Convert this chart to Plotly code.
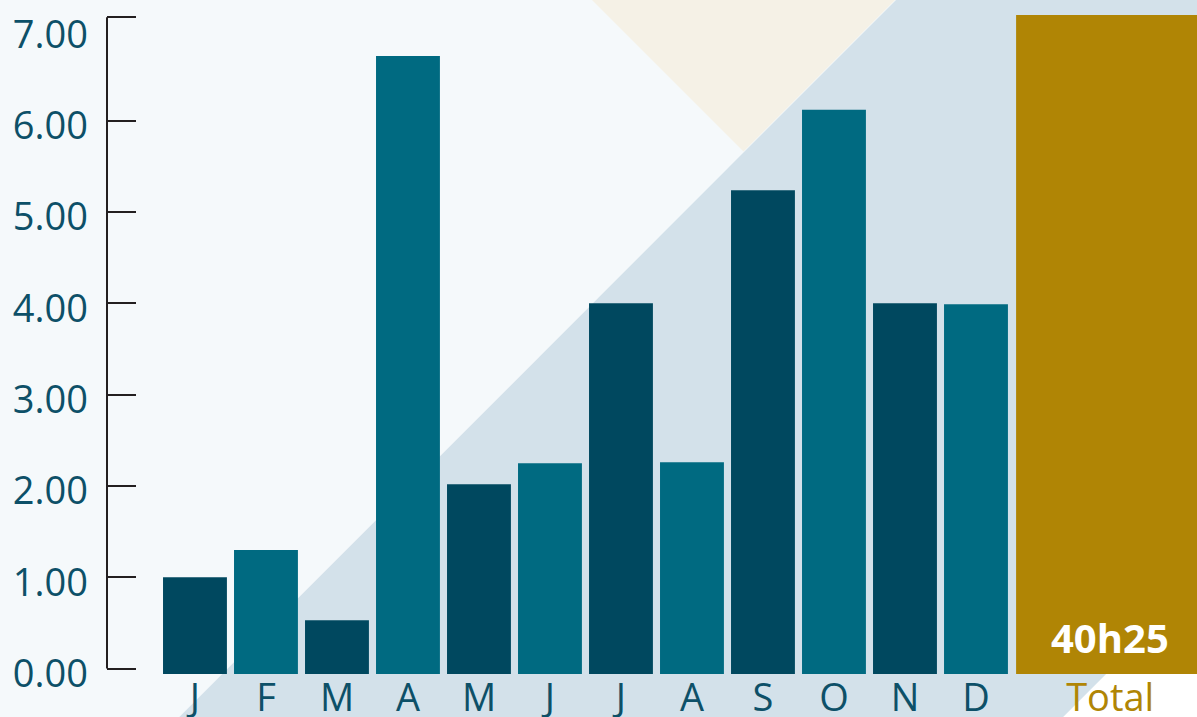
import plotly.graph_objects as go

# ---- data ----
MONTHS = ["J", "F", "M", "A", "M", "J", "J", "A", "S", "O", "N", "D"]
HOURS = [1.00, 1.30, 0.53, 6.71, 2.02, 2.25, 4.00, 2.26, 5.24, 6.12, 4.00, 3.99]
TOTAL_LABEL = "Total"
TOTAL_HOURS = 40.42
TOTAL_TEXT = "40h25"
Y_TICKS = [0, 1, 2, 3, 4, 5, 6, 7]
Y_TICK_LABELS = ["0.00", "1.00", "2.00", "3.00", "4.00", "5.00", "6.00", "7.00"]

# ---- style / layout constants ----
W, H = 1197, 717
L, R, T, B = 107, 0, 15, 43.3
PW, PH = W - L - R, H - T - B
Y_MIN, Y_MAX = -0.059, 7.158
X_MIN, X_MAX = -1.239, 14.113
AXIS_TOP = 7.133
LABEL_SHIFT = 0.055
TOTAL_POS = 12.89
TOTAL_WIDTH = 2.65
BAR_WIDTH = 0.9

DARK = "#00485f"
TEAL = "#006a81"
GOLD = "#b08505"
TEXT = "#0d5068"
AXIS = "#231f20"
FONT = "Open Sans"

month_x = list(range(len(MONTHS)))
colors = [DARK if i % 2 == 0 else TEAL for i in range(len(MONTHS))]


def px2paper(pts):
    return " L ".join(f"{(x - L) / PW:.5f},{(H - B - y) / PH:.5f}" for x, y in pts)


def poly(pts, color):
    return dict(type="path", xref="paper", yref="paper", layer="below",
                path="M " + px2paper(pts) + " Z", fillcolor=color, line=dict(width=0))


shapes = [
    poly([(896, 0), (W, 0), (W, 583), (1063, H), (179, H)], "#d3e1ea"),
    poly([(1063, H), (W, 583), (W, H)], "#ffffff"),
    poly([(592, 0), (895, 0), (743.5, 151.5)], "#f5f1e6"),
    dict(type="line", xref="paper", yref="y", x0=0, x1=0, y0=0, y1=AXIS_TOP,
         line=dict(color=AXIS, width=2), layer="above"),
]

fig = go.Figure()
fig.add_trace(go.Bar(x=month_x, y=[v - Y_MIN for v in HOURS], base=Y_MIN,
                     width=BAR_WIDTH, marker=dict(color=colors, line=dict(width=0)),
                     hoverinfo="skip", showlegend=False))
fig.add_trace(go.Bar(x=[TOTAL_POS], y=[TOTAL_HOURS - Y_MIN], base=Y_MIN,
                     width=TOTAL_WIDTH, marker=dict(color=GOLD, line=dict(width=0)),
                     hoverinfo="skip", showlegend=False))
# invisible trace to anchor the label axis
fig.add_trace(go.Scatter(x=[0], y=[1], yaxis="y2", mode="markers",
                         marker=dict(opacity=0), hoverinfo="skip", showlegend=False))

fig.add_annotation(x=TOTAL_POS, y=0.34, text=f"<b>{TOTAL_TEXT}</b>", showarrow=False,
                   font=dict(family=FONT, size=40, color="#ffffff"),
                   xanchor="center", yanchor="middle")

fig.update_layout(
    width=W, height=H,
    margin=dict(l=L, r=R, t=T, b=B, pad=0),
    paper_bgcolor="#f5f9fb", plot_bgcolor="rgba(0,0,0,0)",
    barmode="overlay",
    shapes=shapes,
    xaxis=dict(range=[X_MIN, X_MAX], tickvals=month_x + [TOTAL_POS],
               ticktext=MONTHS + [f'<span style="color:{GOLD}">{TOTAL_LABEL}</span>'],
               tickfont=dict(family=FONT, size=38, color=TEXT),
               ticks="", showgrid=False, zeroline=False, showline=False,
               ticklabelstandoff=-2, automargin=False),
    yaxis=dict(range=[Y_MIN, Y_MAX], tickvals=Y_TICKS[:-1] + [AXIS_TOP],
               showticklabels=False, ticks="inside", ticklen=29, tickwidth=2,
               tickcolor=AXIS, showgrid=False, zeroline=False, showline=False,
               automargin=False),
    yaxis2=dict(overlaying="y", side="left", anchor="x",
                range=[Y_MIN + LABEL_SHIFT, Y_MAX + LABEL_SHIFT],
                tickvals=Y_TICKS, ticktext=Y_TICK_LABELS,
                tickfont=dict(family=FONT, size=38, color=TEXT),
                ticks="", showgrid=False, zeroline=False, showline=False,
                ticklabelstandoff=18, automargin=False),
)

fig.write_html("out.html")
